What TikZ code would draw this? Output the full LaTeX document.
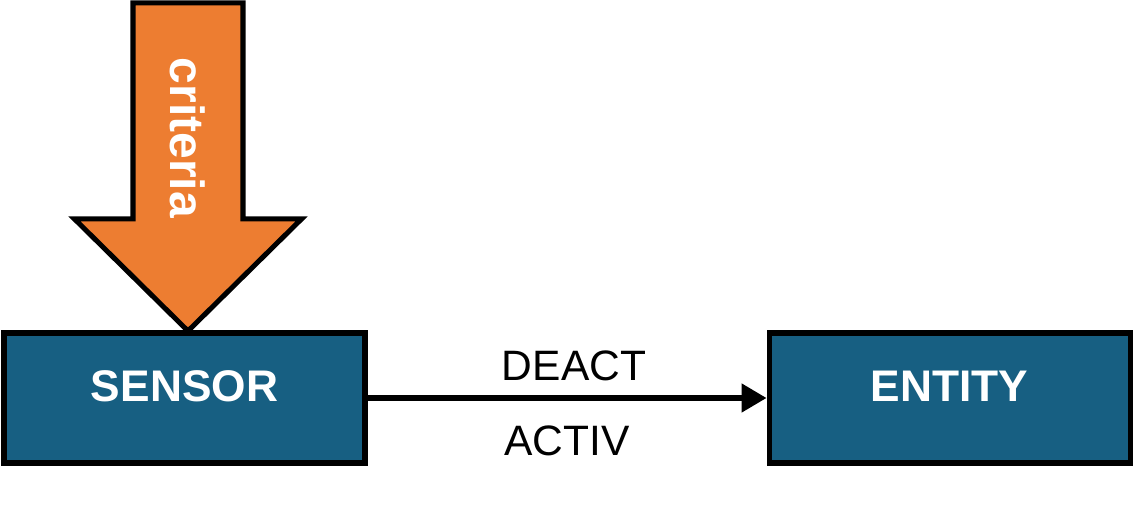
\documentclass[tikz,border=0pt]{standalone}
\usepackage{fontspec}
\setmainfont{Liberation Sans}
\usepackage{tikz}
\usetikzlibrary{calc, arrows.meta, positioning}
\definecolor{boxblue}{HTML}{175F82}
\definecolor{critorange}{HTML}{ED7D31}

\begin{document}
\begin{tikzpicture}[
    unitbox/.style={draw=black, line width=2.85pt, fill=boxblue, text=white,
      font=\fontsize{25.2}{30}\selectfont\bfseries,
      minimum width=7.22cm, minimum height=2.6cm, inner sep=0pt,
      text height=0.63cm, text depth=0.47cm},
    signal/.style={font=\fontsize{24.2}{29}\selectfont, inner sep=0pt}
  ]
    \pgfmathsetmacro{\ax}{3.76}
    \pgfmathsetmacro{\sw}{1.1}
    \pgfmathsetmacro{\hw}{2.27}
    \pgfmathsetmacro{\sy}{5.78}
    \pgfmathsetmacro{\ty}{10.1}
    \pgfmathsetmacro{\py}{3.54}
    \useasboundingbox (0,0) rectangle (22.68,10.16);
    \coordinate (P) at (\ax,\py);
    \coordinate (L0) at ({\ax-\sw},\ty);
    \coordinate (R0) at ({\ax+\sw},\ty);
    \coordinate (L1) at ({\ax-\sw},\sy);
    \coordinate (R1) at ({\ax+\sw},\sy);
    \coordinate (L2) at ({\ax-\hw},\sy);
    \coordinate (R2) at ({\ax+\hw},\sy);
    \draw[line width=2.85pt, fill=critorange, line join=miter]
        (L0) -- (R0) -- (R1) -- (R2) -- (P) -- (L2) -- (L1) -- cycle;
    \node[text=white, font=\fontsize{27.3}{32}\selectfont\bfseries, rotate=-90] (crit) at (\ax,7.4) {criteria};
    \node[unitbox] (sensor) at (3.69,2.2) {SENSOR};
    \node[unitbox] (entity) at (18.99,2.2) {ENTITY};
    \draw[line width=2.85pt, -{Triangle[length=0.5cm,width=0.56cm]}] (sensor) -- (entity)
        node[midway, above=0.3cm, xshift=0.14cm, signal] (deact) {DEACT}
        node[midway, below=0.5cm, signal] (activ) {ACTIV};
\end{tikzpicture}
\end{document}
